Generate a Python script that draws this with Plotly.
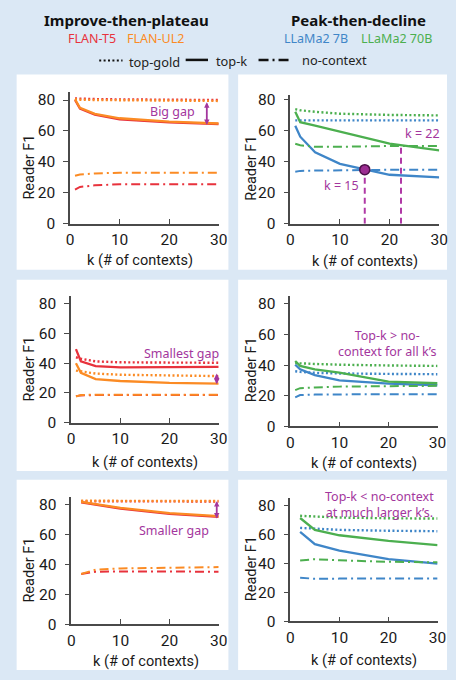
import plotly.graph_objects as go

W, H = 456, 680

# ---------------- data ----------------
K_A = [1, 2, 5, 10, 20, 30]
K_B = [2, 5, 10, 20, 30]

# top-left (FLAN-T5 / FLAN-UL2)
TL_T5_GOLD = [81.0, 80.8, 80.6, 80.4, 80.2, 80.0]
TL_T5_TOPK = [80.0, 74.5, 70.5, 67.5, 65.5, 64.5]
TL_T5_NOCTX = [22.0, 23.8, 24.8, 25.5, 25.6, 25.6]
TL_UL2_GOLD = [80.5, 80.2, 80.0, 79.8, 79.6, 79.4]
TL_UL2_TOPK = [80.5, 75.0, 71.0, 68.2, 66.0, 64.8]
TL_UL2_NOCTX = [31.0, 31.8, 32.5, 33.0, 33.0, 33.0]

# top-right (LLaMa2 7B / 70B)
TR_7B_GOLD = [66.5, 66.5, 66.5, 66.5, 66.5, 66.5]
TR_7B_TOPK = [63.0, 56.0, 46.0, 38.5, 31.5, 29.8]
TR_7B_NOCTX = [33.5, 34.0, 34.2, 34.5, 34.7, 34.8]
TR_70B_GOLD = [73.7, 73.0, 72.0, 70.8, 70.0, 69.7]
TR_70B_TOPK = [72.0, 65.3, 63.2, 59.4, 51.6, 47.2]
TR_70B_NOCTX = [51.5, 50.5, 49.5, 49.5, 50.0, 50.0]
CROSS_K = [15, 22.3]
CROSS_F1 = [34.8, 50.6]

# middle-left
ML_T5_GOLD = [44.0, 43.0, 41.2, 40.6, 40.4, 40.3]
ML_T5_TOPK = [49.5, 41.2, 38.0, 37.2, 37.3, 37.5]
ML_T5_NOCTX = [17.8, 18.3, 18.5, 18.6, 18.6, 18.6]
ML_UL2_GOLD = [35.0, 34.6, 33.0, 32.2, 31.6, 31.3]
ML_UL2_TOPK = [40.0, 33.5, 29.3, 28.0, 26.7, 26.2]
ML_UL2_NOCTX = [17.5, 18.5, 18.8, 18.8, 18.8, 18.8]

# middle-right
MR_7B_GOLD = [36.0, 35.6, 35.0, 34.6, 34.3, 34.1]
MR_7B_TOPK = [40.3, 37.3, 33.5, 30.1, 28.0, 26.9]
MR_7B_NOCTX = [19.0, 20.5, 20.8, 21.0, 21.1, 21.1]
MR_70B_GOLD = [41.5, 41.2, 40.8, 40.3, 39.8, 39.5]
MR_70B_TOPK = [42.7, 39.5, 37.3, 35.2, 29.2, 28.2]
MR_70B_NOCTX = [23.7, 25.0, 25.5, 26.0, 26.3, 26.5]

# bottom-left
BL_T5_GOLD = [82.0, 82.0, 82.0, 82.0, 81.8]
BL_T5_TOPK = [81.3, 79.5, 77.0, 73.5, 71.5]
BL_T5_NOCTX = [33.5, 35.0, 35.2, 35.1, 35.0]
BL_UL2_GOLD = [82.3, 82.3, 82.2, 82.2, 82.1]
BL_UL2_TOPK = [81.6, 80.0, 77.6, 74.0, 72.0]
BL_UL2_NOCTX = [33.5, 36.4, 37.2, 37.8, 38.1]

# bottom-right
BR_7B_GOLD = [64.4, 63.8, 63.0, 62.4, 62.1]
BR_7B_TOPK = [61.7, 53.2, 48.7, 42.8, 39.7]
BR_7B_NOCTX = [30.0, 29.3, 29.4, 29.5, 29.5]
BR_70B_GOLD = [72.7, 72.2, 71.5, 71.0, 70.8]
BR_70B_TOPK = [71.2, 63.0, 59.3, 55.4, 52.5]
BR_70B_NOCTX = [41.9, 42.8, 42.0, 41.0, 40.6]

X_TICKS = [0, 10, 20, 30]
Y_TICKS = [0, 20, 40, 60, 80]

# ---------------- style ----------------
RED = "#e8323c"
ORANGE = "#fb8b24"
BLUE = "#3f86c8"
GREEN = "#4caf4f"
PURPLE = "#a3369d"
BG = "#dbe8f5"
AXC = "#4a4a4a"
FONT = "Roboto"
TFONT = "Noto Sans"

DOT = "2px,2.4px"
DASHDOT = "9px,4px,2px,4px"


def px(x):
    return x / W


def py(y):
    return 1 - y / H


# panels: id, x-domain px, y-domain px (top,bottom), y range max
PANELS = [
    (1, (68, 221), (90, 224), 85),
    (2, (294.7, 448), (92.5, 224), 83),
    (3, (69, 221), (298.1, 426.7), 85),
    (4, (294.7, 446.3), (297.9, 430.7), 85),
    (5, (69.3, 221), (502.3, 632.3), 85),
    (6, (294.7, 446.3), (503.6, 629.3), 85),
]

fig = go.Figure()


def add_series(pid, k, gold, topk, noctx, color):
    xa = "x" if pid == 1 else f"x{pid}"
    ya = "y" if pid == 1 else f"y{pid}"
    fig.add_trace(go.Scatter(x=k, y=noctx, mode="lines", xaxis=xa, yaxis=ya,
                             line=dict(color=color, width=2, dash=DASHDOT),
                             showlegend=False, hoverinfo="skip"))
    fig.add_trace(go.Scatter(x=k, y=gold, mode="lines", xaxis=xa, yaxis=ya,
                             line=dict(color=color, width=2.4, dash=DOT),
                             showlegend=False, hoverinfo="skip"))
    fig.add_trace(go.Scatter(x=k, y=topk, mode="lines", xaxis=xa, yaxis=ya,
                             line=dict(color=color, width=2.3),
                             showlegend=False, hoverinfo="skip"))


add_series(1, K_A, TL_T5_GOLD, TL_T5_TOPK, TL_T5_NOCTX, RED)
add_series(1, K_A, TL_UL2_GOLD, TL_UL2_TOPK, TL_UL2_NOCTX, ORANGE)
add_series(2, K_A, TR_7B_GOLD, TR_7B_TOPK, TR_7B_NOCTX, BLUE)
add_series(2, K_A, TR_70B_GOLD, TR_70B_TOPK, TR_70B_NOCTX, GREEN)
add_series(3, K_A, ML_T5_GOLD, ML_T5_TOPK, ML_T5_NOCTX, RED)
add_series(3, K_A, ML_UL2_GOLD, ML_UL2_TOPK, ML_UL2_NOCTX, ORANGE)
add_series(4, K_A, MR_7B_GOLD, MR_7B_TOPK, MR_7B_NOCTX, BLUE)
add_series(4, K_A, MR_70B_GOLD, MR_70B_TOPK, MR_70B_NOCTX, GREEN)
add_series(5, K_B, BL_T5_GOLD, BL_T5_TOPK, BL_T5_NOCTX, RED)
add_series(5, K_B, BL_UL2_GOLD, BL_UL2_TOPK, BL_UL2_NOCTX, ORANGE)
add_series(6, K_B, BR_7B_GOLD, BR_7B_TOPK, BR_7B_NOCTX, BLUE)
add_series(6, K_B, BR_70B_GOLD, BR_70B_TOPK, BR_70B_NOCTX, GREEN)

# crossing markers in top-right panel
for kc, fc in zip(CROSS_K, CROSS_F1):
    fig.add_trace(go.Scatter(x=[kc, kc], y=[0, fc], mode="lines", xaxis="x2", yaxis="y2",
                             line=dict(color="#b03aa6", width=2, dash="6px,4px"),
                             showlegend=False, hoverinfo="skip"))
fig.add_trace(go.Scatter(x=CROSS_K[:1], y=CROSS_F1[:1], mode="markers", xaxis="x2", yaxis="y2",
                         marker=dict(size=10, color="#9c2d92", line=dict(color="#4d1048", width=1.5)),
                         showlegend=False, hoverinfo="skip"))

layout = dict(
    width=W, height=H, margin=dict(l=0, r=0, t=0, b=0),
    paper_bgcolor=BG, plot_bgcolor="rgba(0,0,0,0)",
    showlegend=False,
)

shapes = []
annotations = []

# white panel backgrounds
for (x0, x1, y0, y1) in [(13, 231, 72, 271), (241, 456, 72, 271),
                         (13, 231, 281, 476), (241, 456, 281, 476),
                         (13, 231, 485, 679), (241, 456, 485, 679)]:
    shapes.append(dict(type="rect", xref="paper", yref="paper", x0=px(x0), x1=px(x1),
                       y0=py(y1), y1=py(y0), fillcolor="white", line=dict(width=0), layer="below"))

TICKFONT = dict(family=FONT, size=15.5, color="#1a1a1a")
for pid, (xd0, xd1), (yt, yb), ymax in PANELS:
    s = "" if pid == 1 else str(pid)
    xdom = [px(xd0), px(xd1)]
    ydom = [py(yb), py(yt)]
    # main axes: inside tick halves + labels
    layout[f"xaxis{s}"] = dict(domain=xdom, range=[0, 30], anchor=f"y{s}",
                               tickvals=X_TICKS, ticks="inside", ticklen=5, tickwidth=1.3,
                               tickcolor=AXC, showline=True, linecolor=AXC, linewidth=1.5,
                               showgrid=False, zeroline=False, ticklabelstandoff=1,
                               tickfont=TICKFONT)
    layout[f"yaxis{s}"] = dict(domain=ydom, range=[0, ymax], anchor=f"x{s}",
                               tickvals=Y_TICKS, ticks="outside", ticklen=5, tickwidth=1.3,
                               tickcolor=AXC, showline=True, linecolor=AXC, linewidth=1.5,
                               showgrid=False, zeroline=False, ticklabelstandoff=5,
                               tickfont=TICKFONT)
    # overlay axes: the other tick halves, so ticks cross the axis lines
    o = pid + 6
    layout[f"xaxis{o}"] = dict(domain=xdom, range=[0, 30], overlaying=f"x{s}", anchor=f"y{s}",
                               tickvals=[10, 20, 30], ticks="outside", ticklen=5, tickwidth=1.3,
                               tickcolor=AXC, showticklabels=False, showline=False,
                               showgrid=False, zeroline=False)
    layout[f"yaxis{o}"] = dict(domain=ydom, range=[0, ymax], overlaying=f"y{s}", anchor=f"x{s}",
                               tickvals=Y_TICKS[1:], ticks="inside", ticklen=5, tickwidth=1.3,
                               tickcolor=AXC, showticklabels=False, showline=False,
                               showgrid=False, zeroline=False)


def note(text, x, y, size, color, family=TFONT, angle=0):
    return dict(text=text, x=px(x), y=py(y), xref="paper", yref="paper", showarrow=False,
                xanchor="center", yanchor="middle", textangle=angle,
                font=dict(family=family, size=size, color=color))


# axis titles
XT = [(140, 262), (371.3, 263), (145, 467), (370.8, 468), (146, 670), (370.8, 669)]
YT = [(26.7, 165.8), (254.7, 167.5), (26.7, 371.7), (254.7, 373), (26.7, 576.7), (254.7, 575.8)]
for (x, y) in XT:
    annotations.append(note("k (# of contexts)", x, y, 14.5, "#1a1a1a", FONT))
for (x, y) in YT:
    annotations.append(note("Reader F1", x, y, 14.5, "#1a1a1a", FONT, -90))

# headers
annotations += [
    note("<b>Improve-then-plateau</b>", 126, 16.5, 15, "#111"),
    note("<b>Peak-then-decline</b>", 365, 16.5, 15, "#111"),
    note("FLAN-T5", 90.7, 35, 12.5, RED),
    note("FLAN-UL2", 156, 35, 12.5, ORANGE),
    note("LLaMa2 7B", 321, 35, 12.5, BLUE),
    note("LLaMa2 70B", 404, 35, 12.5, GREEN),
    note("top-gold", 155, 59, 12.8, "#222"),
    note("top-k", 234, 58, 12.8, "#222"),
    note("no-context", 340.5, 57, 12.8, "#222"),
]
# legend line samples
shapes += [
    dict(type="line", xref="paper", yref="paper", x0=px(98), x1=px(122), y0=py(57.5), y1=py(57.5),
         line=dict(color="#111", width=2, dash=DOT)),
    dict(type="line", xref="paper", yref="paper", x0=px(187), x1=px(210), y0=py(57), y1=py(57),
         line=dict(color="#111", width=2.5)),
    dict(type="line", xref="paper", yref="paper", x0=px(262), x1=px(294), y0=py(57), y1=py(57),
         line=dict(color="#111", width=2.5, dash="10px,4px,2px,4px")),
]

# in-panel notes
PF = dict(family=TFONT, size=12.5, color=PURPLE)
annotations += [
    dict(text="Big gap", x=20.6, y=72.6, xref="x", yref="y", showarrow=False, font=PF),
    dict(text="k = 22", x=26.7, y=58.3, xref="x2", yref="y2", showarrow=False, font=PF),
    dict(text="k = 15", x=10.3, y=24.6, xref="x2", yref="y2", showarrow=False, font=PF),
    dict(text="Smallest gap", x=22.4, y=46.3, xref="x3", yref="y3", showarrow=False, font=PF),
    dict(text="Top-k &gt; no-<br>context for all k’s", x=19.8, y=54.2, xref="x4", yref="y4",
         showarrow=False, font=PF, align="center"),
    dict(text="Smaller gap", x=20.9, y=62.6, xref="x5", yref="y5", showarrow=False, font=PF),
    dict(text="Top-k &lt; no-context<br>at much larger k’s.", x=18.1, y=80.6, xref="x6", yref="y6",
         showarrow=False, font=PF, align="center"),
]
# gap arrows
for xr, yr, xk, ytop, ybot in [("x", "y", 27.6, 78.5, 63.0), ("x3", "y3", 29.6, 33.0, 24.8),
                               ("x5", "y5", 29.6, 82.0, 69.5)]:
    annotations.append(dict(x=xk, y=ytop, ax=xk, ay=ybot, xref=xr, yref=yr, axref=xr, ayref=yr,
                            text="", showarrow=True, arrowhead=2, startarrowhead=2,
                            arrowside="end+start", arrowsize=0.6, startarrowsize=0.6,
                            arrowwidth=1.8, arrowcolor=PURPLE, standoff=0, startstandoff=0))

layout["shapes"] = shapes
layout["annotations"] = annotations
fig.update_layout(**layout)

fig.write_html("out.html", config={"displayModeBar": False},
               post_script="document.body.style.margin='0';document.body.style.overflow='hidden';")
